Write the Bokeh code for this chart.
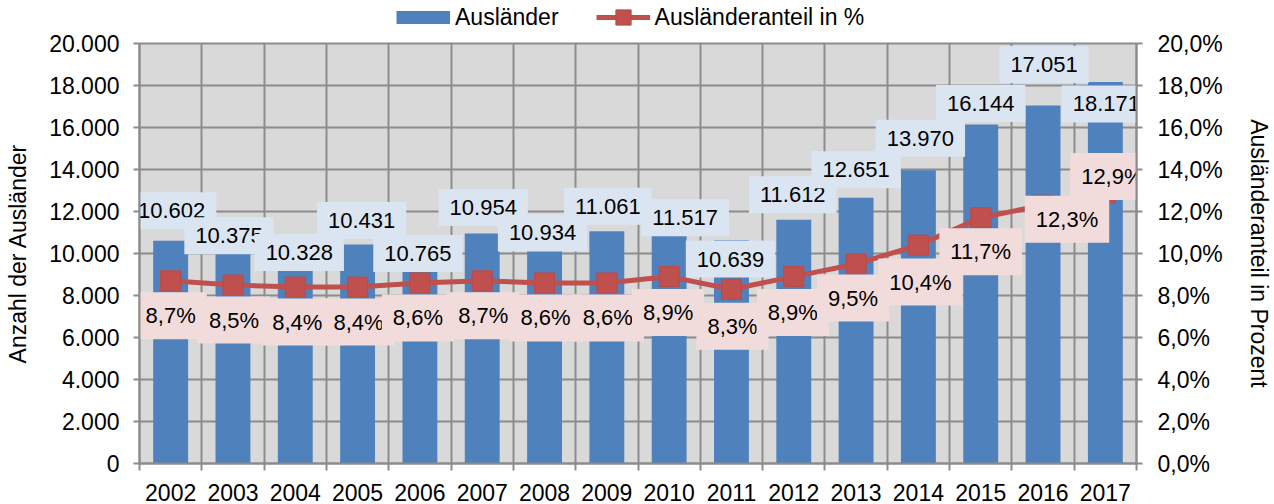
from bokeh.plotting import figure
from bokeh.layouts import column
from bokeh.models import (ColumnDataSource, Range1d, LinearAxis, FixedTicker,
                          Legend, LegendItem)
from bokeh.core.properties import value
from bokeh.embed import file_html
from bokeh.resources import INLINE

# ---------------- data ----------------
years = [2002, 2003, 2004, 2005, 2006, 2007, 2008, 2009,
         2010, 2011, 2012, 2013, 2014, 2015, 2016, 2017]
auslaender = [10602, 10375, 10328, 10431, 10765, 10954, 10934, 11061,
              11517, 10639, 11612, 12651, 13970, 16144, 17051, 18171]
anteil = [8.7, 8.5, 8.4, 8.4, 8.6, 8.7, 8.6, 8.6,
          8.9, 8.3, 8.9, 9.5, 10.4, 11.7, 12.3, 12.9]
left_ticks = [0, 2000, 4000, 6000, 8000, 10000, 12000, 14000, 16000, 18000, 20000]
left_tick_labels = ["0", "2.000", "4.000", "6.000", "8.000", "10.000",
                    "12.000", "14.000", "16.000", "18.000", "20.000"]
right_ticks = [0, 2, 4, 6, 8, 10, 12, 14, 16, 18, 20]
right_tick_labels = ["0,0%", "2,0%", "4,0%", "6,0%", "8,0%", "10,0%",
                     "12,0%", "14,0%", "16,0%", "18,0%", "20,0%"]
series_names = ["Ausländer", "Ausländeranteil in %"]
axis_titles = ["Anzahl der Ausländer", "Ausländeranteil in Prozent"]

# label placement (screen px; dy positive = up)
bar_label_dx = [1, -4, 4, 4, -2, 1, -2, 1, 16, -1, -1, 0, 2, 0, 1, 1]
bar_label_dy = [30, 10, -6, 24, -16, 26, 1, 25, 4, -19, 25, 28, 32, 21, 41, -22]
pct_label_dx = [0, 1, 2, 1, -2, 1, 1, 1, -1, 1, -1, -3, 2, 0, 24, 7]
pct_label_dy = [-35, -35, -35, -35, -35, -35, -35, -35, -36, -37, -36, -34, -37, -34, -14, 16]

FONT = "Liberation Sans"
GRID = "#8c8c8c"
BLUE = "#4f81bd"
RED = "#c0504d"
MARK_EDGE = "#b84a47"

bar_labels = [f"{v:,}".replace(",", ".") for v in auslaender]
pct_labels = [f"{v:.1f}".replace(".", ",") + "%" for v in anteil]
boundaries = [y - 0.5 for y in years] + [years[-1] + 0.5]

src = ColumnDataSource(dict(
    x=years, auslaender=auslaender, anteil=anteil,
    blab=bar_labels, plab=pct_labels,
    bdx=bar_label_dx, bdy=[-d for d in bar_label_dy],
    pdx=pct_label_dx, pdy=[-d for d in pct_label_dy],
))

W = 1274
LEG_H = 29
BORDER_L = 139

# ---------------- main chart ----------------
p = figure(width=W, height=504 - LEG_H,
           x_range=Range1d(years[0] - 0.5, years[-1] + 0.5),
           y_range=Range1d(left_ticks[0], left_ticks[-1]),
           output_backend="svg", toolbar_location=None,
           min_border_left=BORDER_L, min_border_right=137,
           min_border_top=43 - LEG_H, min_border_bottom=41)
p.extra_y_ranges = {"pct": Range1d(right_ticks[0], right_ticks[-1])}

p.background_fill_color = "#d9d9d9"
p.border_fill_color = "white"
p.outline_line_color = GRID
p.outline_line_width = 2

p.xgrid.ticker = FixedTicker(ticks=boundaries)
p.ygrid.ticker = FixedTicker(ticks=left_ticks)
for g in (p.xgrid, p.ygrid):
    g.grid_line_color = GRID
    g.grid_line_width = 2

xa = p.xaxis[0]
xa.ticker = FixedTicker(ticks=years, minor_ticks=boundaries)
xa.major_label_overrides = {y: str(y) for y in years}
xa.major_tick_out = 0
xa.major_tick_in = 0
xa.minor_tick_out = 7
xa.minor_tick_in = 0
xa.minor_tick_line_color = GRID
xa.minor_tick_line_width = 2
xa.major_label_standoff = 13

ya = p.yaxis[0]
ya.ticker = FixedTicker(ticks=left_ticks)
ya.major_label_overrides = dict(zip(left_ticks, left_tick_labels))
ya.axis_label = axis_titles[0]
ya.major_label_standoff = 14
ya.axis_label_standoff = 15

ra = LinearAxis(y_range_name="pct", ticker=FixedTicker(ticks=right_ticks),
                major_label_overrides=dict(zip(right_ticks, right_tick_labels)),
                axis_label=axis_titles[1])
ra.major_label_standoff = 15
ra.axis_label_standoff = 20
ra.axis_label_orientation = "vertical"
p.add_layout(ra, "right")

for ax in (xa, ya, ra):
    ax.axis_line_color = GRID
    ax.axis_line_width = 2
    ax.major_tick_line_color = GRID
    ax.major_tick_line_width = 2
    ax.major_label_text_font = FONT
    ax.major_label_text_font_size = "23px"
    ax.major_label_text_color = "black"
    ax.axis_label_text_font = FONT
    ax.axis_label_text_font_size = "23px"
    ax.axis_label_text_font_style = "normal"
    ax.axis_label_text_color = "black"
for ax in (ya, ra):
    ax.major_tick_out = 6
    ax.major_tick_in = 0
    ax.minor_tick_out = 0
    ax.minor_tick_in = 0

p.vbar(x="x", top="auslaender", width=0.56, source=src,
       fill_color=BLUE, line_color=None)
p.line(x="x", y="anteil", source=src, y_range_name="pct",
       line_color=RED, line_width=5)
p.scatter(x="x", y="anteil", source=src, y_range_name="pct",
          marker="square", size=20, fill_color=RED,
          line_color=MARK_EDGE, line_width=1)

p.text(x="x", y="auslaender", text="blab", source=src,
       x_offset="bdx", y_offset="bdy",
       text_align="center", text_baseline="middle",
       text_font=value(FONT), text_font_size="22px", text_color="black",
       background_fill_color="#dbe5f1", padding=11)
p.text(x="x", y="anteil", text="plab", source=src, y_range_name="pct",
       x_offset="pdx", y_offset="pdy",
       text_align="center", text_baseline="middle",
       text_font=value(FONT), text_font_size="22px", text_color="black",
       background_fill_color="#f2dcdb", padding=11)

# ---------------- legend strip ----------------
lf = figure(width=W, height=LEG_H, x_range=Range1d(0, 1), y_range=Range1d(0, 1),
            output_backend="svg", toolbar_location=None,
            x_axis_location=None, y_axis_location=None,
            min_border=0, outline_line_color=None)
lf.grid.visible = False
lf.background_fill_color = "white"
# legend-only renderers (single points, outside the strip's ranges: nothing drawn)
sw_bar = lf.line(x=years[:1], y=auslaender[:1], line_color=BLUE, line_width=13)
sw_line = lf.line(x=years[:1], y=anteil[:1], line_color=RED, line_width=5)
sw_mark = lf.scatter(x=years[:1], y=anteil[:1], marker="square",
                     fill_color=RED, line_color=MARK_EDGE)

GLYPH_H = 38
leg = Legend(items=[LegendItem(label=series_names[0], renderers=[sw_bar]),
                    LegendItem(label=series_names[1], renderers=[sw_line, sw_mark])],
             orientation="horizontal",
             # frame-relative (x from the aligned frame's left, y from bottom)
             location=(396 - BORDER_L, LEG_H + 2 - GLYPH_H),
             glyph_width=54, glyph_height=GLYPH_H, label_standoff=5, spacing=37,
             padding=0, margin=0, background_fill_alpha=0, border_line_alpha=0,
             label_text_font=FONT, label_text_font_size="23px",
             label_text_color="black")
lf.add_layout(leg)

layout = column(lf, p, spacing=0)
open("out.html", "w").write(file_html(layout, INLINE))
